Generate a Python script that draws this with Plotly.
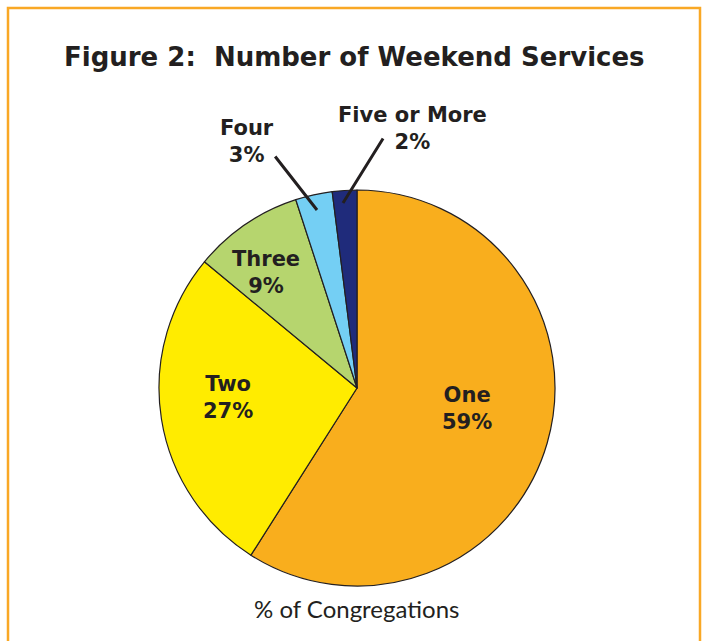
import plotly.graph_objects as go

categories = ["One", "Two", "Three", "Four", "Five or More"]
values = [59, 27, 9, 3, 2]
colors = ["#F9AE1D", "#FFEC00", "#B6D56E", "#74CFF4", "#1F2B7B"]

W, H = 705, 641
cx, cy, r = 357, 388, 198

fig = go.Figure(go.Pie(
    labels=categories, values=values, sort=False, direction="clockwise", rotation=0,
    marker=dict(colors=colors, line=dict(color="#231F20", width=1.2)),
    textinfo="none", hoverinfo="label+percent", showlegend=False,
    domain=dict(x=[(cx - r) / W, (cx + r) / W], y=[1 - (cy + r) / H, 1 - (cy - r) / H]),
))

font_b = dict(family="'DejaVu Sans', sans-serif", size=21, color="#231F20")

def px(x, y):
    return x / W, 1 - y / H

labels_pos = {
    "One": (467, 408),
    "Two": (228, 397),
    "Three": (266, 272),
    "Four": (247, 142),
    "Five or More": (413, 128),
}
for cat, v in zip(categories, values):
    x, y = px(*labels_pos[cat])
    fig.add_annotation(x=x, y=y, xref="paper", yref="paper", xanchor="center", yanchor="middle",
                       text=f"<b>{cat}<br>{v}%</b>", showarrow=False, font=font_b,
                       align="center")

# leader lines
for (x0, y0, x1, y1) in [(274, 155, 317, 210), (384, 137, 343, 203)]:
    xa, ya = px(x1, y1)
    fig.add_annotation(x=xa, y=ya, xref="paper", yref="paper", ax=x0 - x1, ay=y0 - y1,
                       showarrow=True, arrowhead=0, arrowwidth=3, arrowcolor="#231F20", text="")

tx, ty = px(355, 57)
fig.add_annotation(x=tx, y=ty, xref="paper", yref="paper", xanchor="center", yanchor="middle",
                   text="<b>Figure 2:  Number of Weekend Services</b>", showarrow=False,
                   font=dict(family="'DejaVu Sans', sans-serif", size=26, color="#231F20"))
bx, by = px(357, 608)
fig.add_annotation(x=bx, y=by, xref="paper", yref="paper", xanchor="center", yanchor="middle",
                   text="% of Congregations", showarrow=False,
                   font=dict(family="Lato, sans-serif", size=24, color="#231F20"))

fig.add_shape(type="rect", xref="paper", yref="paper",
              x0=8 / W, x1=700 / W, y0=-0.1, y1=1 - 8 / H,
              line=dict(color="#F9A825", width=2.5), fillcolor="rgba(0,0,0,0)", layer="below")

fig.update_layout(width=W, height=H, margin=dict(l=0, r=0, t=0, b=0),
                  paper_bgcolor="white", plot_bgcolor="white")
fig.write_html("out.html", config={"displayModeBar": False},
               post_script="document.body.style.margin='0';")
